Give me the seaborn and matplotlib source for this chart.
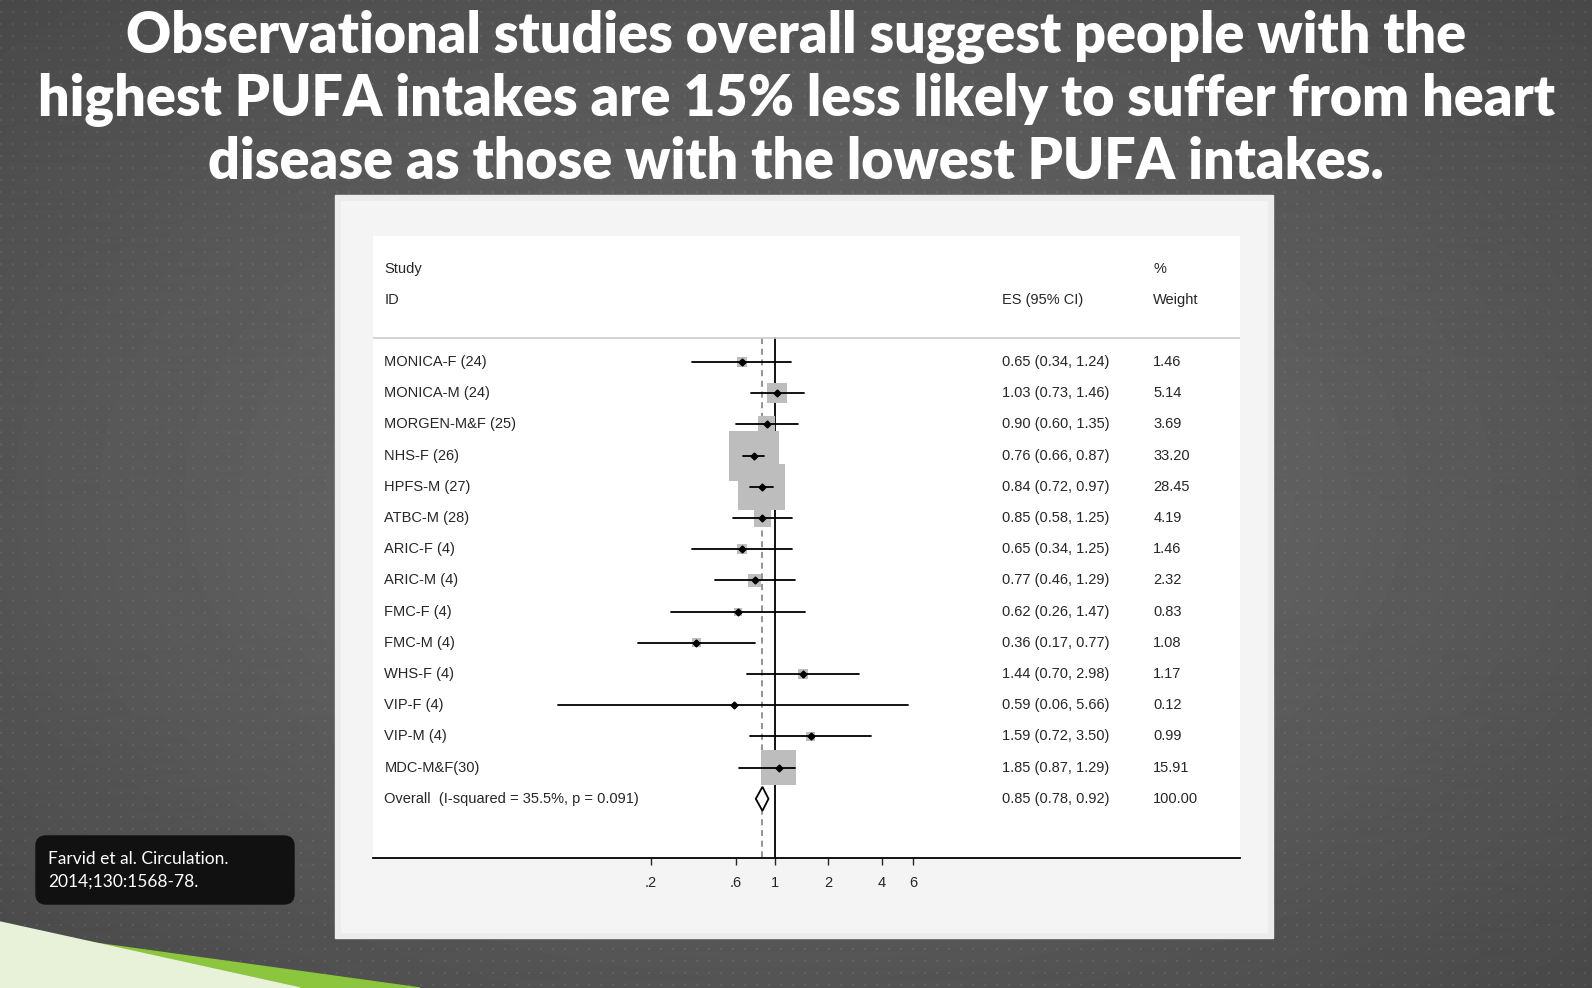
import numpy as np
import pandas as pd
import matplotlib.pyplot as plt
import matplotlib.patches as mpatches
import seaborn as sns

studies = ["MONICA-F (24)", "MONICA-M (24)", "MORGEN-M&F (25)", "NHS-F (26)", "HPFS-M (27)",
           "ATBC-M (28)", "ARIC-F (4)", "ARIC-M (4)", "FMC-F (4)", "FMC-M (4)", "WHS-F (4)",
           "VIP-F (4)", "VIP-M (4)", "MDC-M&F(30)"]
es = [0.65, 1.03, 0.90, 0.76, 0.84, 0.85, 0.65, 0.77, 0.62, 0.36, 1.44, 0.59, 1.59, 1.05]
lo = [0.34, 0.73, 0.60, 0.66, 0.72, 0.58, 0.34, 0.46, 0.26, 0.17, 0.70, 0.06, 0.72, 0.63]
hi = [1.24, 1.46, 1.35, 0.87, 0.97, 1.25, 1.25, 1.29, 1.47, 0.77, 2.98, 5.66, 3.50, 1.30]
es_labels = ["0.65 (0.34, 1.24)", "1.03 (0.73, 1.46)", "0.90 (0.60, 1.35)", "0.76 (0.66, 0.87)",
             "0.84 (0.72, 0.97)", "0.85 (0.58, 1.25)", "0.65 (0.34, 1.25)", "0.77 (0.46, 1.29)",
             "0.62 (0.26, 1.47)", "0.36 (0.17, 0.77)", "1.44 (0.70, 2.98)", "0.59 (0.06, 5.66)",
             "1.59 (0.72, 3.50)", "1.85 (0.87, 1.29)"]
weights = [1.46, 5.14, 3.69, 33.20, 28.45, 4.19, 1.46, 2.32, 0.83, 1.08, 1.17, 0.12, 0.99, 15.91]
overall_es, overall_lo, overall_hi = 0.85, 0.78, 0.92
overall_label = "Overall  (I-squared = 35.5%, p = 0.091)"
overall_es_label = "0.85 (0.78, 0.92)"
xticks = [0.2, 0.6, 1, 2, 4, 6]
xticklabels = [".2", ".6", "1", "2", "4", "6"]

sns.set_style("white")
plt.rcParams['font.family'] = ['Liberation Sans', 'DejaVu Sans']

W, H = 1592, 988
fig = plt.figure(figsize=(W/100, H/100), dpi=100)

# background
bg = fig.add_axes([0, 0, 1, 1])
yy, xx = np.mgrid[0:H, 0:W]
r = np.sqrt(((xx - W*0.5)/W)**2 + ((yy - H*0.5)/H)**2)
img = 0.44 - 0.22*r
img = np.clip(img, 0.25, 0.5)
dots = ((xx % 12) < 2) & ((yy % 12) < 2)
img = img + dots*0.05
bg.imshow(img, cmap='gray', vmin=0, vmax=1, extent=[0, W, H, 0], aspect='auto')
bg.set_xlim(0, W); bg.set_ylim(H, 0); bg.axis('off')
bg.add_patch(mpatches.Polygon([[0, 930], [420, 988], [0, 988]], color='#8cc63f'))
bg.add_patch(mpatches.Polygon([[0, 922], [300, 988], [0, 988]], color='#e8f2d8'))
bg.add_patch(mpatches.Rectangle((335, 195), 938, 743, color='#ececec'))
bg.add_patch(mpatches.Rectangle((341, 201), 926, 731, color='#f4f4f4'))
bg.add_patch(mpatches.FancyBboxPatch((36, 836), 258, 68, boxstyle="round,pad=0,rounding_size=10",
                                     color='#111111'))
bg.text(48, 859, "Farvid et al. Circulation.", color='white', fontsize=12.5, va='center',
        family=['Lato', 'DejaVu Sans'])
bg.text(48, 882, "2014;130:1568-78.", color='white', fontsize=12.5, va='center',
        family=['Lato', 'DejaVu Sans'])
title = ("Observational studies overall suggest people with the\n"
         "highest PUFA intakes are 15% less likely to suffer from heart\n"
         "disease as those with the lowest PUFA intakes.")
bg.text(796, 99, title, color='white', fontsize=40, fontweight='heavy', ha='center', va='center',
        linespacing=1.22, family=['Lato', 'DejaVu Sans'])

# forest plot
x0, y0, x1, y1 = 373, 236, 1240, 858
ax = fig.add_axes([x0/W, 1 - y1/H, (x1-x0)/W, (y1-y0)/H])
ax.set_facecolor('white')
ax.set_xscale('log')
ax.set_xlim(np.exp(-5.22), np.exp(6.04))
ax.set_ylim(y1 - y0, 0)

rows = [126 + 31.2*i for i in range(len(studies))]
df = pd.DataFrame({"es": es, "y": rows, "w": weights})
sns.scatterplot(data=df, x="es", y="y", size="w", sizes=(39*min(weights), 39*max(weights)),
                size_norm=(min(weights), max(weights)), marker='s', color='#bdbdbd',
                edgecolor='none', legend=False, ax=ax, zorder=2)
for e, l, h, y in zip(es, lo, hi, rows):
    ax.plot([l, h], [y, y], color='black', lw=1.3, zorder=3)
    ax.plot([e], [y], marker='D', color='black', ms=3.5, zorder=4)

oy = 126 + 31.2*len(studies)
ax.add_patch(mpatches.Polygon([[overall_lo, oy], [overall_es, oy-12], [overall_hi, oy], [overall_es, oy+12]],
                              closed=True, fill=True, facecolor='white', edgecolor='black', lw=1.3, zorder=4))
ax.plot([1, 1], [102, y1-y0], color='black', lw=1.3, zorder=1)
ax.plot([overall_es, overall_es], [102, y1-y0], color='#777777', lw=1.1, ls=(0, (4, 3)), zorder=1)
ax.axhline(102, color='#cccccc', lw=1.2)

tr = ax.get_yaxis_transform()
fs = 10.5
ax.text(0.013, 33, "Study", transform=tr, fontsize=fs, va='center')
ax.text(0.013, 64, "ID", transform=tr, fontsize=fs, va='center')
ax.text(0.725, 64, "ES (95% CI)", transform=tr, fontsize=fs, va='center')
ax.text(0.90, 33, "%", transform=tr, fontsize=fs, va='center')
ax.text(0.90, 64, "Weight", transform=tr, fontsize=fs, va='center')
for s, lab, w, y in zip(studies, es_labels, weights, rows):
    ax.text(0.013, y, s, transform=tr, fontsize=fs, va='center')
    ax.text(0.725, y, lab, transform=tr, fontsize=fs, va='center')
    ax.text(0.90, y, f"{w:.2f}", transform=tr, fontsize=fs, va='center')
ax.text(0.013, oy, overall_label, transform=tr, fontsize=fs, va='center')
ax.text(0.725, oy, overall_es_label, transform=tr, fontsize=fs, va='center')
ax.text(0.90, oy, "100.00", transform=tr, fontsize=fs, va='center')

ax.set_xticks(xticks)
ax.set_xticklabels(xticklabels, fontsize=fs)
ax.xaxis.set_minor_locator(plt.NullLocator())
ax.tick_params(axis='x', direction='out', length=5, width=1, bottom=True, pad=8)
ax.set_yticks([])
ax.set_xlabel(""); ax.set_ylabel("")
for sp in ['top', 'left', 'right']:
    ax.spines[sp].set_visible(False)
ax.spines['bottom'].set_color('black')
ax.spines['bottom'].set_linewidth(1.3)

fig.savefig("out.png", dpi=100)
